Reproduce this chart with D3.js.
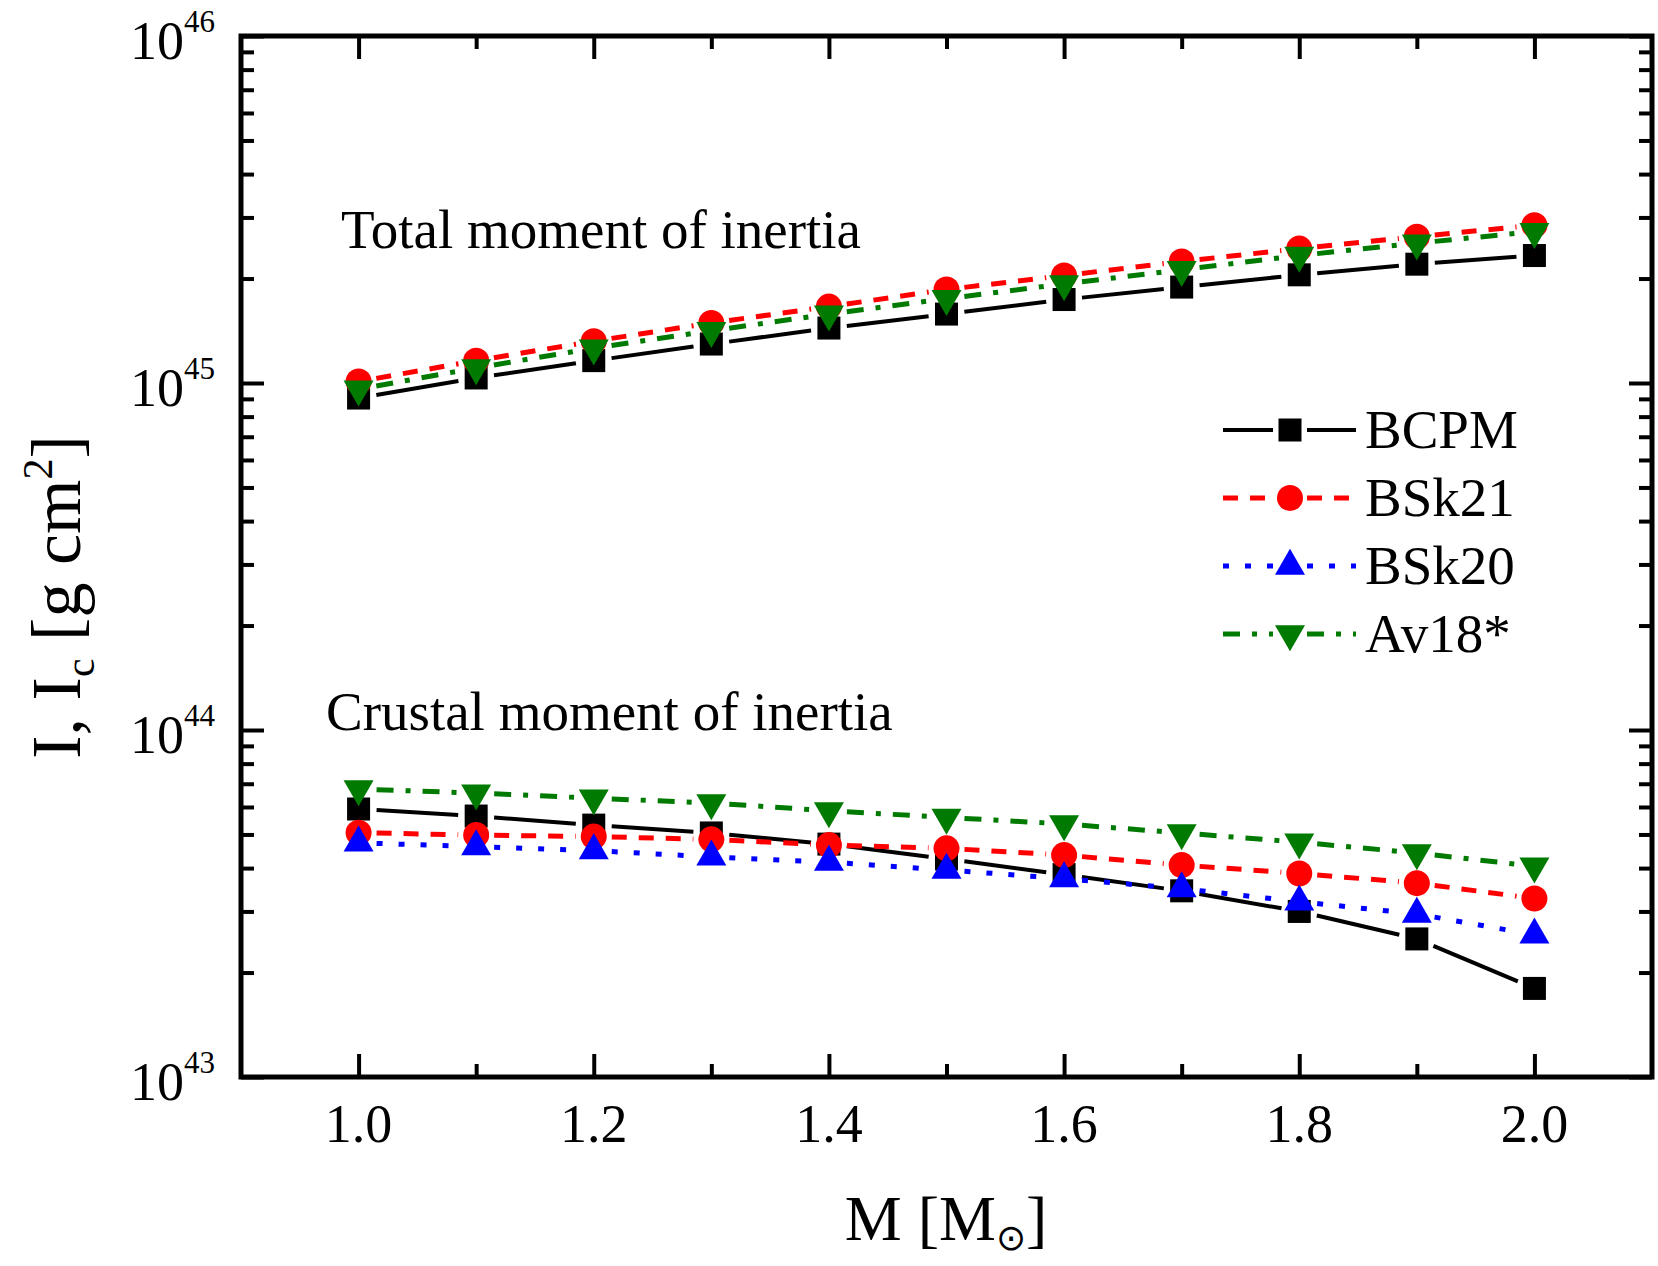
<!DOCTYPE html>
<html>
<head>
<meta charset="utf-8">
<script src="https://cdn.jsdelivr.net/npm/d3@7"></script>
<style>
  body { margin: 0; background: #fff; }
  text { font-family: "Liberation Serif", "Times New Roman", serif; fill: #000; }
</style>
</head>
<body>
<div class="plot"></div>
<script>
// masses in solar units
const masses = [1.0, 1.1, 1.2, 1.3, 1.4, 1.5, 1.6, 1.7, 1.8, 1.9, 2.0];

// total moment of inertia (g cm^2)
const bcpmTotal  = [0.905e45, 1.034e45, 1.16e45, 1.295e45, 1.44e45, 1.58e45, 1.74e45, 1.89e45, 2.05e45, 2.20e45, 2.33e45];
const bsk21Total = [1.01e45, 1.16e45, 1.32e45, 1.49e45, 1.66e45, 1.86e45, 2.04e45, 2.24e45, 2.44e45, 2.64e45, 2.85e45];
const av18Total  = [0.96e45, 1.105e45, 1.26e45, 1.415e45, 1.58e45, 1.75e45, 1.93e45, 2.12e45, 2.33e45, 2.53e45, 2.73e45];

// crustal moment of inertia (g cm^2)
const bcpmCrust  = [5.92e43, 5.65e43, 5.32e43, 5.05e43, 4.69e43, 4.25e43, 3.83e43, 3.44e43, 3.00e43, 2.50e43, 1.80e43];
const bsk21Crust = [5.06e43, 4.98e43, 4.93e43, 4.84e43, 4.66e43, 4.56e43, 4.36e43, 4.08e43, 3.86e43, 3.62e43, 3.27e43];
const bsk20Crust = [4.73e43, 4.61e43, 4.49e43, 4.31e43, 4.16e43, 3.95e43, 3.73e43, 3.49e43, 3.20e43, 2.95e43, 2.57e43];
const av18Crust  = [6.76e43, 6.58e43, 6.36e43, 6.16e43, 5.85e43, 5.60e43, 5.36e43, 5.05e43, 4.75e43, 4.42e43, 4.05e43];

const legendNames = ["BCPM", "BSk21", "BSk20", "Av18*"];
const xMajor = [1.0, 1.2, 1.4, 1.6, 1.8, 2.0];
const xMinor = [1.1, 1.3, 1.5, 1.7, 1.9];
const yDecades = [43, 44, 45, 46];

const width = 1658;
const height = 1266;
const pLeft = 241, pRight = 1652, pTop = 36, pBottom = 1077;

const svg = d3.select('.plot')
    .append('svg')
    .attr('width', width)
    .attr('height', height);

const x = d3.scaleLinear().domain([0.9, 2.1]).range([pLeft, pRight]);
const y = d3.scaleLog().domain([1e43, 1e46]).range([pBottom, pTop]);

// styles per model
const styles = {
  BCPM:  { color: "#000000", dash: null,         width: 4, marker: "square" },
  BSk21: { color: "#ff0000", dash: "15,12",      width: 5, marker: "circle" },
  BSk20: { color: "#0000ff", dash: "6,16",       width: 5, marker: "up" },
  "Av18*": { color: "#007a00", dash: "17,12,5,12", width: 5, marker: "down" }
};

function markerPath(type) {
  const w = 30, h = 26;
  if (type === "up") {
    return `M0,${-2*h/3}L${w/2},${h/3}L${-w/2},${h/3}Z`;
  }
  return `M0,${2*h/3}L${w/2},${-h/3}L${-w/2},${-h/3}Z`;
}

function drawMarker(g, type, color, cx, cy) {
  if (type === "square") {
    g.append("rect").attr("x", cx - 11.5).attr("y", cy - 11.5)
      .attr("width", 23).attr("height", 23).attr("fill", color);
  } else if (type === "circle") {
    g.append("circle").attr("cx", cx).attr("cy", cy).attr("r", 13).attr("fill", color);
  } else {
    g.append("path").attr("d", markerPath(type))
      .attr("transform", `translate(${cx},${cy})`).attr("fill", color);
  }
}

// series: line segments stop short of the markers
function drawSeries(name, values) {
  const st = styles[name];
  const g = svg.append("g");
  const pts = masses.map((m, i) => [x(m), y(values[i])]);
  const gap = 18;
  for (let i = 0; i < pts.length - 1; i++) {
    const [x1, y1] = pts[i], [x2, y2] = pts[i + 1];
    const len = Math.hypot(x2 - x1, y2 - y1);
    const ux = (x2 - x1) / len, uy = (y2 - y1) / len;
    g.append("line")
      .attr("x1", x1 + ux * gap).attr("y1", y1 + uy * gap)
      .attr("x2", x2 - ux * gap).attr("y2", y2 - uy * gap)
      .attr("stroke", st.color)
      .attr("stroke-width", st.width)
      .attr("stroke-dasharray", st.dash);
  }
  pts.forEach(p => drawMarker(g, st.marker, st.color, p[0], p[1]));
}

drawSeries("BCPM", bcpmTotal);
drawSeries("BSk21", bsk21Total);
drawSeries("Av18*", av18Total);

drawSeries("BCPM", bcpmCrust);
drawSeries("BSk21", bsk21Crust);
drawSeries("BSk20", bsk20Crust);
drawSeries("Av18*", av18Crust);

// axes, ticks pointing inward
function tickAxis(axisFn, scale, values, size, transform) {
  svg.append("g")
    .attr("transform", transform)
    .call(axisFn(scale).tickValues(values).tickSize(size).tickFormat(""))
    .call(g => g.select(".domain").remove())
    .call(g => g.selectAll("line").attr("stroke", "#000").attr("stroke-width", 4));
}

tickAxis(d3.axisBottom, x, xMajor, -23, `translate(0,${pBottom})`);
tickAxis(d3.axisBottom, x, xMinor, -13, `translate(0,${pBottom})`);
tickAxis(d3.axisTop, x, xMajor, -23, `translate(0,${pTop})`);
tickAxis(d3.axisTop, x, xMinor, -13, `translate(0,${pTop})`);

const yMajor = yDecades.map(d => Math.pow(10, d));
const yMinor = [];
yDecades.slice(0, 3).forEach(d => {
  for (let k = 2; k <= 9; k++) yMinor.push(k * Math.pow(10, d));
});

tickAxis(d3.axisLeft, y, yMajor, -23, `translate(${pLeft},0)`);
tickAxis(d3.axisLeft, y, yMinor, -13, `translate(${pLeft},0)`);
tickAxis(d3.axisRight, y, yMajor, -23, `translate(${pRight},0)`);
tickAxis(d3.axisRight, y, yMinor, -13, `translate(${pRight},0)`);

// frame
svg.append("rect")
  .attr("x", pLeft).attr("y", pTop)
  .attr("width", pRight - pLeft).attr("height", pBottom - pTop)
  .attr("fill", "none").attr("stroke", "#000").attr("stroke-width", 5);

// x tick labels
svg.selectAll(".xlabel")
  .data(xMajor)
  .enter()
  .append("text")
  .attr("class", "xlabel")
  .attr("x", d => x(d))
  .attr("y", 1142)
  .attr("text-anchor", "middle")
  .attr("font-size", "54px")
  .text(d => d.toFixed(1));

// y tick labels 10^n
const ylab = svg.selectAll(".ylabel")
  .data(yDecades)
  .enter()
  .append("text")
  .attr("class", "ylabel")
  .attr("x", 215)
  .attr("y", d => y(Math.pow(10, d)) + 23)
  .attr("text-anchor", "end")
  .attr("font-size", "54px");
ylab.append("tspan").text("10");
ylab.append("tspan").attr("dy", -27).attr("font-size", "31px").text(d => d);

// axis titles
const xt = svg.append("text")
  .attr("x", 946).attr("y", 1240)
  .attr("text-anchor", "middle")
  .attr("font-size", "64px");
xt.append("tspan").text("M [M");
xt.append("tspan").attr("dy", 10).attr("font-size", "36px").text("\u2299");
xt.append("tspan").attr("dy", -10).text("]");

const yt = svg.append("text")
  .attr("transform", "translate(80,597) rotate(-90)")
  .attr("text-anchor", "middle")
  .attr("font-size", "70px");
yt.append("tspan").text("I, I");
yt.append("tspan").attr("dy", 14).attr("font-size", "42px").text("c");
yt.append("tspan").attr("dy", -14).text(" [g cm");
yt.append("tspan").attr("dy", -28).attr("font-size", "42px").text("2");
yt.append("tspan").attr("dy", 28).text("]");

// annotations
svg.append("text").attr("x", 341).attr("y", 248)
  .attr("font-size", "55px").text("Total moment of inertia");
svg.append("text").attr("x", 326).attr("y", 730)
  .attr("font-size", "55px").text("Crustal moment of inertia");

// legend
const legend = svg.selectAll(".legend")
  .data(legendNames)
  .enter()
  .append("g")
  .attr("class", "legend")
  .attr("transform", (d, i) => `translate(0,${430 + i * 68})`);

legend.each(function(name) {
  const g = d3.select(this);
  const st = styles[name];
  g.append("line").attr("x1", 1223).attr("x2", 1273).attr("y1", 0).attr("y2", 0)
    .attr("stroke", st.color).attr("stroke-width", st.width).attr("stroke-dasharray", st.dash);
  g.append("line").attr("x1", 1307).attr("x2", 1356).attr("y1", 0).attr("y2", 0)
    .attr("stroke", st.color).attr("stroke-width", st.width).attr("stroke-dasharray", st.dash);
  drawMarker(g, st.marker, st.color, 1290, 0);
  g.append("text").attr("x", 1365).attr("y", 18)
    .attr("font-size", "55px").text(name);
});
</script>
</body>
</html>
